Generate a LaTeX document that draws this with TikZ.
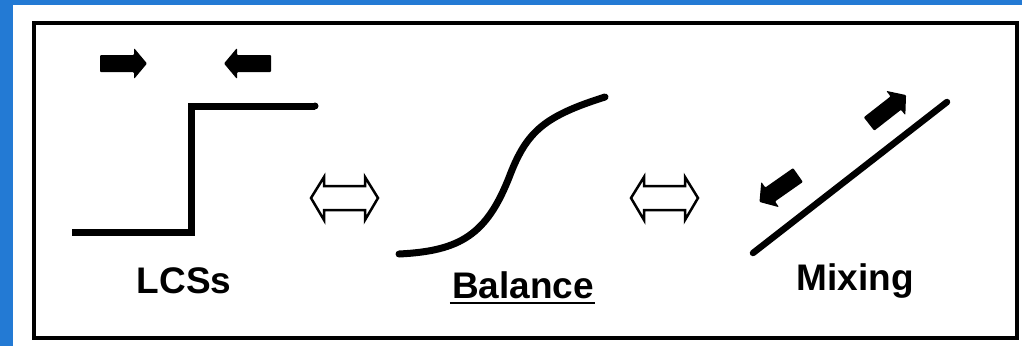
\documentclass[tikz,border=0pt]{standalone}
\usepackage{fontspec}
\setmainfont{Liberation Sans}
\definecolor{bgblue}{RGB}{35,122,212}
\tikzset{
  lbl/.style={font=\bfseries\fontsize{37}{40}\selectfont, inner sep=0pt, anchor=base},
  curveline/.style={line width=7pt, line cap=round, line join=miter},
  blockarrow/.pic={\fill[black, rounded corners=1pt] (0,-8.5) -- (34,-8.5) -- (34,-15.5) -- (47,0) -- (34,15.5) -- (34,8.5) -- (0,8.5) -- cycle;},
  dblarrow/.pic={\draw[black, fill=white, line width=2.5pt, line join=miter] (-33.5,0) -- (-20.5,-21) -- (-20.5,-12) -- (20.5,-12) -- (20.5,-21) -- (33.5,0) -- (20.5,22) -- (20.5,12) -- (-20.5,12) -- (-20.5,22) -- cycle;}
}
\begin{document}
\begin{tikzpicture}[x=1pt,y=-1pt]
\useasboundingbox (0,0) rectangle (1022,346);
\fill[bgblue] (0,0) rectangle (1022,346);
\fill[white] (13,5) rectangle (1022,346);
\draw[line width=4pt] (34,23) rectangle (1016.5,338);
% LCSs panel
\pic at (100,63.5) {blockarrow};
\pic[rotate=180] at (271,63.5) {blockarrow};
\draw[curveline, line cap=butt] (72,232) -- (191,232) -- (191,106) -- (315,106);
\fill (315,106) circle (3.5pt);
\node[lbl] (lcs) at (184,293) {LCSs};
% double arrows
\pic at (344.5,198) {dblarrow};
\pic at (664.5,198) {dblarrow};
% Balance panel
\draw[curveline] (399,254) .. controls (460,251) and (487,235) .. (510,175)
  .. controls (527,131) and (545,116) .. (605,97);
\node[lbl] (bal) at (523,298) {Balance};
\draw[line width=2pt] ([xshift=-2pt,yshift=-5pt]bal.base west) -- ([xshift=1pt,yshift=-5pt]bal.base east);
% Mixing panel
\draw[curveline, line width=6.5pt] (753,253) -- (947,102);
\pic[rotate=38] at (869,124) {blockarrow};
\pic[rotate=215] at (798,175) {blockarrow};
\node[lbl] (mix) at (855,290) {Mixing};
\end{tikzpicture}
\end{document}
